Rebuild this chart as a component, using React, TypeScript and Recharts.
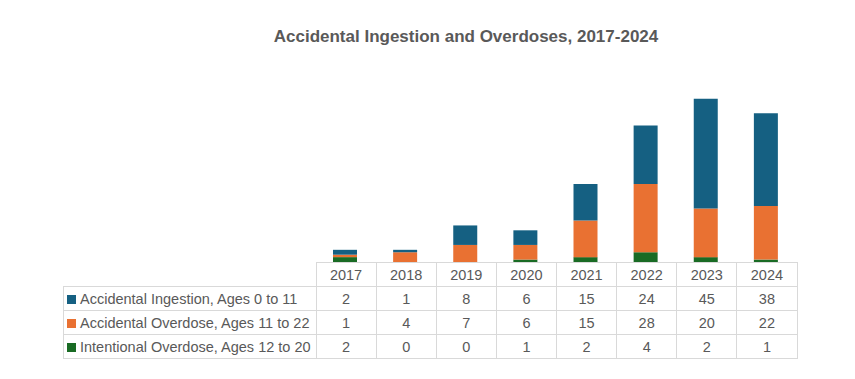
import { BarChart, Bar, XAxis, YAxis } from "recharts";

const years = ["2017", "2018", "2019", "2020", "2021", "2022", "2023", "2024"];
const accidentalIngestion = [2, 1, 8, 6, 15, 24, 45, 38];
const accidentalOverdose = [1, 4, 7, 6, 15, 28, 20, 22];
const intentionalOverdose = [2, 0, 0, 1, 2, 4, 2, 1];

const series = [
  { key: "ingestion", name: "Accidental Ingestion, Ages 0 to 11", color: "#156082", values: accidentalIngestion },
  { key: "overdose", name: "Accidental Overdose, Ages 11 to 22", color: "#E97132", values: accidentalOverdose },
  { key: "intentional", name: "Intentional Overdose, Ages 12 to 20", color: "#196B24", values: intentionalOverdose },
];

const data = years.map((year, i) => ({
  year,
  ingestion: accidentalIngestion[i],
  overdose: accidentalOverdose[i],
  intentional: intentionalOverdose[i],
}));

const FONT = "'Liberation Sans', Arial, sans-serif";
const TEXT = "#595959";
const GRID = "#d9d9d9";
const PLOT_LEFT = 315;
const PLOT_RIGHT = 796;
const COL_W = (PLOT_RIGHT - PLOT_LEFT) / years.length;
const ROW_H = 24;

export default function App() {
  const cell: React.CSSProperties = {
    border: `1px solid ${GRID}`,
    width: COL_W,
    height: ROW_H,
    padding: 0,
    textAlign: "center",
    boxSizing: "border-box",
  };
  return (
    <div style={{ position: "absolute", left: 0, top: 0, width: 855, height: 379, background: "#fff", fontFamily: FONT, color: TEXT }}>
      <div style={{ position: "absolute", left: 0, width: 932, top: 27, textAlign: "center", fontSize: 17, fontWeight: "bold" }}>
        Accidental Ingestion and Overdoses, 2017-2024
      </div>
      <BarChart
        width={855}
        height={262}
        data={data}
        margin={{ top: 67, right: 855 - PLOT_RIGHT, bottom: 0, left: PLOT_LEFT }}
        barCategoryGap={0}
        style={{ position: "absolute", left: 0, top: 0 }}
      >
        <XAxis dataKey="year" hide />
        <YAxis hide domain={[0, 80]} />
        <Bar dataKey="intentional" stackId="a" fill="#196B24" barSize={24} isAnimationActive={false} />
        <Bar dataKey="overdose" stackId="a" fill="#E97132" barSize={24} isAnimationActive={false} />
        <Bar dataKey="ingestion" stackId="a" fill="#156082" barSize={24} isAnimationActive={false} />
      </BarChart>
      <table
        style={{
          position: "absolute",
          left: 63,
          top: 262,
          borderCollapse: "collapse",
          fontSize: 14.5,
          fontFamily: FONT,
          color: TEXT,
          tableLayout: "fixed",
        }}
      >
        <tbody>
          <tr>
            <td style={{ width: PLOT_LEFT - 63, padding: 0, border: "none" }} />
            {years.map((y) => (
              <td key={y} style={cell}>{y}</td>
            ))}
          </tr>
          {series.map((s) => (
            <tr key={s.key}>
              <td style={{ ...cell, width: PLOT_LEFT - 63, textAlign: "left", whiteSpace: "nowrap", paddingLeft: 3 }}>
                <span style={{ display: "inline-block", width: 9, height: 9, background: s.color, marginRight: 4 }} />
                {s.name}
              </td>
              {s.values.map((v, i) => (
                <td key={i} style={cell}>{v}</td>
              ))}
            </tr>
          ))}
        </tbody>
      </table>
    </div>
  );
}
